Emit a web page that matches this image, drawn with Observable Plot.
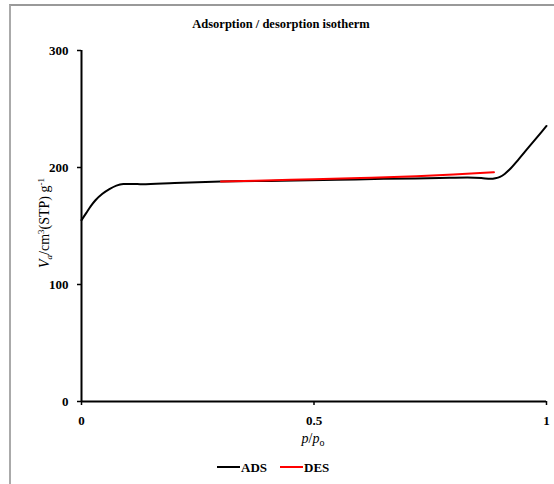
<!DOCTYPE html>
<html><head><meta charset="utf-8">
<script src="https://cdn.jsdelivr.net/npm/d3@7"></script>
<script src="https://cdn.jsdelivr.net/npm/@observablehq/plot@0.6"></script>
<style>
body{margin:0;background:#fff;}
#wrap{position:relative;width:554px;height:484px;overflow:hidden;background:#fff;}
#frame{position:absolute;left:9px;top:4px;width:600px;height:600px;border-top:2px solid #999;border-left:2px solid #aaa;pointer-events:none;}
#chart{position:absolute;left:0;top:0;}
</style></head><body><div id="wrap"><div id="chart"></div><div id="frame"></div></div>
<script>
// Adsorption branch (p/p0, volume)
const adsX = [0, 0.01, 0.02, 0.03, 0.045, 0.06, 0.075, 0.09, 0.11, 0.13, 0.20, 0.30, 0.43, 0.55, 0.65, 0.77, 0.83, 0.86, 0.88, 0.89, 0.90, 0.91, 0.92, 0.94, 0.96, 0.98, 1.0];
const adsY = [155, 161, 167, 172, 177.5, 181.5, 184.5, 185.8, 186, 185.7, 186.8, 188, 188.6, 189.5, 190.3, 191, 191.4, 191, 190.3, 190.8, 192, 194.5, 198, 207, 216.5, 226, 235.5];
// Desorption branch
const desX = [0.30, 0.45, 0.60, 0.72, 0.80, 0.887];
const desY = [188, 189.5, 191, 192.5, 194, 196];
const xTicks = [0, 0.5, 1];
const yTicks = [0, 100, 200, 300];
const seriesNames = ["ADS", "DES"];
const seriesColors = ["#000000", "#ff0000"];

const ads = adsX.map((x, i) => ({x, y: adsY[i]}));
const des = desX.map((x, i) => ({x, y: desY[i]}));

const serif = "'Liberation Serif', 'Times New Roman', serif";
const plot = Plot.plot({
  width: 554, height: 484,
  marginLeft: 81, marginRight: 8, marginTop: 50, marginBottom: 83,
  style: {fontFamily: serif, fontSize: "13px", fontWeight: "bold", color: "#000", background: "transparent"},
  x: {domain: [0, 1]},
  y: {domain: [0, 300]},
  marks: [
    Plot.axisY({ticks: yTicks, tickSize: 4, tickPadding: 9, label: null, fontWeight: "bold", strokeWidth: 1.5}),
    Plot.axisX({ticks: xTicks, tickSize: 4, tickPadding: 10, label: null, fontWeight: "bold", strokeWidth: 1.5, tickFormat: d => String(d)}),
    Plot.ruleX([0], {stroke: "#000", strokeWidth: 2}),
    Plot.ruleY([0], {stroke: "#000", strokeWidth: 2}),
    Plot.line(ads, {x: "x", y: "y", curve: "monotone-x", stroke: seriesColors[0], strokeWidth: 2}),
    Plot.line(des, {x: "x", y: "y", curve: "monotone-x", stroke: seriesColors[1], strokeWidth: 2})
  ]
});
document.getElementById("chart").appendChild(plot);

const svg = d3.select(plot);
// Title
svg.append("text").attr("x", 281).attr("y", 28).attr("text-anchor", "middle")
  .attr("font-family", serif).attr("font-weight", "bold").attr("font-size", 12.5)
  .text("Adsorption / desorption isotherm");

// Y label
const yl = svg.append("text").attr("transform", "translate(49,223) rotate(-90)")
  .attr("text-anchor", "middle").attr("font-family", serif).attr("font-weight", "normal").attr("font-size", 14);
yl.append("tspan").attr("font-style", "italic").text("V");
yl.append("tspan").attr("font-style", "italic").attr("font-size", 9).attr("dy", 3).text("a");
yl.append("tspan").attr("dy", -3).text("/cm");
yl.append("tspan").attr("font-size", 9).attr("dy", -5).text("3");
yl.append("tspan").attr("dy", 5).text("(STP) g");
yl.append("tspan").attr("font-size", 9).attr("dy", -5).text("-1");

// X label
const xl = svg.append("text").attr("x", 313).attr("y", 443).attr("text-anchor", "middle")
  .attr("font-family", serif).attr("font-weight", "normal").attr("font-size", 14);
xl.append("tspan").attr("font-style", "italic").text("p");
xl.append("tspan").text("/");
xl.append("tspan").attr("font-style", "italic").text("p");
xl.append("tspan").attr("font-size", 10).attr("dy", 3).text("o");

// Legend
const lg = svg.append("g").attr("font-family", serif).attr("font-weight", "bold").attr("font-size", 13).attr("text-anchor", "start");
const legX = [217, 280];
seriesNames.forEach((n, i) => {
  lg.append("line").attr("x1", legX[i]).attr("x2", legX[i] + 23).attr("y1", 467).attr("y2", 467)
    .attr("stroke", seriesColors[i]).attr("stroke-width", 2);
  lg.append("text").attr("x", legX[i] + 24).attr("y", 471.5).text(n);
});
</script></body></html>
